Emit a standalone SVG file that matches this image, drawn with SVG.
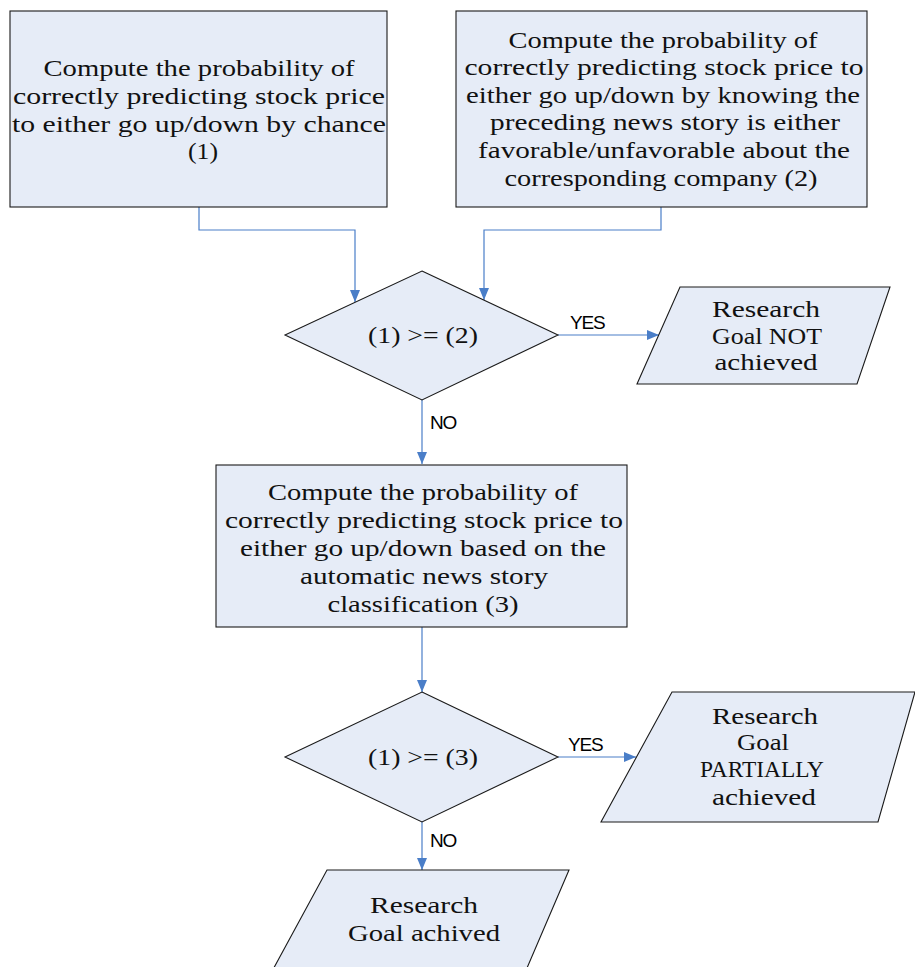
<svg xmlns="http://www.w3.org/2000/svg" width="915" height="967" viewBox="0 0 915 967">
<style>
.shape{fill:#E6ECF7;stroke:#1a1a1a;stroke-width:1.1}
.t{font-family:"Liberation Serif",serif;font-size:24px;fill:#111;text-anchor:middle}
.lbl{font-family:"Liberation Sans",Arial,sans-serif;font-size:19px;fill:#000;letter-spacing:-1.2px}
.con{fill:none;stroke:#4A7EC8;stroke-width:1.2}
</style>
<defs>
<marker id="ah" viewBox="0 0 12 10" refX="12" refY="5" markerWidth="12" markerHeight="10" markerUnits="userSpaceOnUse" orient="auto">
<path d="M0,0 L12,5 L0,10 Z" fill="#4A7EC8"/>
</marker>
</defs>
<rect width="915" height="967" fill="#fff"/>
<g id="connectors">
<path class="con" d="M199,207 V230 H355 V302" marker-end="url(#ah)"/>
<path class="con" d="M661,207 V230 H484 V300" marker-end="url(#ah)"/>
<path class="con" d="M558,335 H659" marker-end="url(#ah)"/>
<path class="con" d="M422,400 V464" marker-end="url(#ah)"/>
<path class="con" d="M422,627 V692" marker-end="url(#ah)"/>
<path class="con" d="M558,757 H636" marker-end="url(#ah)"/>
<path class="con" d="M422,822 V870" marker-end="url(#ah)"/>
<text class="lbl" x="570" y="329">YES</text>
<text class="lbl" x="430" y="429">NO</text>
<text class="lbl" x="568" y="751">YES</text>
<text class="lbl" x="430" y="847">NO</text>
</g>
<g id="box1">
<rect class="shape" x="10" y="11" width="377" height="196"/>
<text class="t" x="199" y="76" textLength="311" lengthAdjust="spacingAndGlyphs">Compute the probability of</text>
<text class="t" x="199" y="104" textLength="372" lengthAdjust="spacingAndGlyphs">correctly predicting stock price</text>
<text class="t" x="199" y="132" textLength="374" lengthAdjust="spacingAndGlyphs">to either go up/down by chance</text>
<text class="t" x="203" y="159" textLength="30" lengthAdjust="spacingAndGlyphs">(1)</text>
</g>
<g id="box2">
<rect class="shape" x="456" y="11" width="411" height="196"/>
<text class="t" x="663" y="48" textLength="309" lengthAdjust="spacingAndGlyphs">Compute the probability of</text>
<text class="t" x="664" y="75" textLength="399" lengthAdjust="spacingAndGlyphs">correctly predicting stock price to</text>
<text class="t" x="663" y="103" textLength="394" lengthAdjust="spacingAndGlyphs">either go up/down by knowing the</text>
<text class="t" x="665" y="130" textLength="350" lengthAdjust="spacingAndGlyphs">preceding news story is either</text>
<text class="t" x="664" y="158" textLength="372" lengthAdjust="spacingAndGlyphs">favorable/unfavorable about the</text>
<text class="t" x="661" y="186" textLength="313" lengthAdjust="spacingAndGlyphs">corresponding company (2)</text>
</g>
<g id="decision1">
<polygon class="shape" points="422,271 558,335 422,400 285,335"/>
<text class="t" x="423" y="343" textLength="110" lengthAdjust="spacingAndGlyphs">(1) &gt;= (2)</text>
</g>
<g id="result1">
<polygon class="shape" points="680,287 890,287 857,384 637,384"/>
<text class="t" x="766" y="317" textLength="108" lengthAdjust="spacingAndGlyphs">Research</text>
<text class="t" x="767" y="344" textLength="110" lengthAdjust="spacingAndGlyphs">Goal NOT</text>
<text class="t" x="766" y="370" textLength="103" lengthAdjust="spacingAndGlyphs">achieved</text>
</g>
<g id="box3">
<rect class="shape" x="216" y="465" width="411" height="162"/>
<text class="t" x="423" y="500" textLength="310" lengthAdjust="spacingAndGlyphs">Compute the probability of</text>
<text class="t" x="424" y="528" textLength="398" lengthAdjust="spacingAndGlyphs">correctly predicting stock price to</text>
<text class="t" x="423" y="556" textLength="366" lengthAdjust="spacingAndGlyphs">either go up/down based on the</text>
<text class="t" x="424" y="584" textLength="248" lengthAdjust="spacingAndGlyphs">automatic news story</text>
<text class="t" x="423" y="612" textLength="191" lengthAdjust="spacingAndGlyphs">classification (3)</text>
</g>
<g id="decision2">
<polygon class="shape" points="422,692 558,757 422,822 285,757"/>
<text class="t" x="423" y="765" textLength="110" lengthAdjust="spacingAndGlyphs">(1) &gt;= (3)</text>
</g>
<g id="result2">
<polygon class="shape" points="672,692 915,692 878,822 601,822"/>
<text class="t" x="765" y="724" textLength="106" lengthAdjust="spacingAndGlyphs">Research</text>
<text class="t" x="763" y="750" textLength="52" lengthAdjust="spacingAndGlyphs">Goal</text>
<text class="t" x="762" y="777" textLength="124" lengthAdjust="spacingAndGlyphs">PARTIALLY</text>
<text class="t" x="764" y="805" textLength="104" lengthAdjust="spacingAndGlyphs">achieved</text>
</g>
<g id="result3">
<polygon class="shape" points="327,870 569,870 524,975 270,975"/>
<text class="t" x="424" y="913" textLength="108" lengthAdjust="spacingAndGlyphs">Research</text>
<text class="t" x="424" y="941" textLength="152" lengthAdjust="spacingAndGlyphs">Goal achived</text>
</g>
</svg>
